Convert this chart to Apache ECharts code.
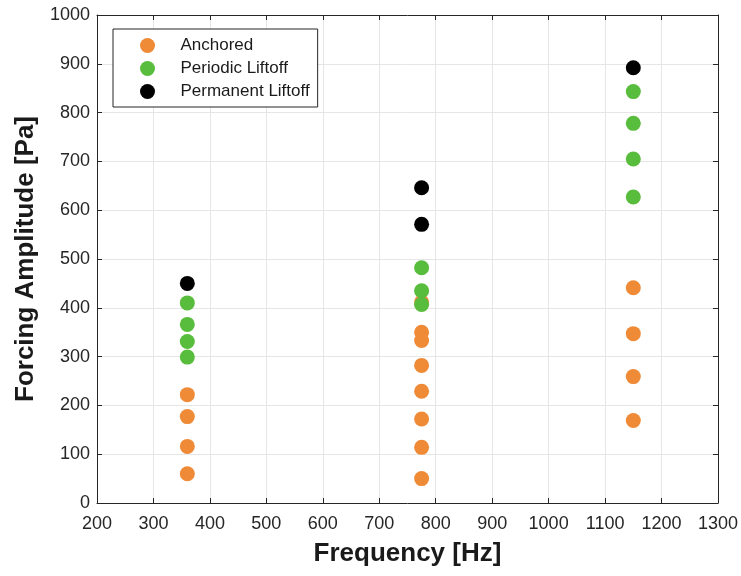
<!DOCTYPE html>
<html>
<head>
<meta charset="utf-8">
<script src="https://cdn.jsdelivr.net/npm/echarts@6/dist/echarts.min.js"></script>
<style>
  html, body { margin: 0; padding: 0; background: #fff; }
  #chart { width: 741px; height: 576px; }
</style>
</head>
<body>
<div id="chart"></div>
<script>
// values
const anchoredFreq = [360, 360, 360, 360, 775, 775, 775, 775, 775, 775, 775, 775, 1150, 1150, 1150, 1150];
const anchoredAmp  = [60, 116, 177, 222, 50, 114, 172, 229, 282, 333, 350, 412, 169, 259, 347, 441];

const periodicFreq = [360, 360, 360, 360, 775, 775, 775, 1150, 1150, 1150, 1150];
const periodicAmp  = [299, 331, 366, 410, 407, 435, 482, 627, 705, 778, 843];

const permanentFreq = [360, 775, 775, 1150];
const permanentAmp  = [450, 571, 646, 892];

const seriesNames = ['Anchored', 'Periodic Liftoff', 'Permanent Liftoff'];
const seriesColors = ['#EF8A36', '#58BC3C', '#000000'];

const xTicks = { min: 200, max: 1300, interval: 100 };
const yTicks = { min: 0, max: 1000, interval: 100 };

const font = "'Liberation Sans', Arial, Helvetica, sans-serif";
const axisColor = '#262626';

function pairs(xs, ys) {
  return xs.map((x, i) => [x, ys[i]]);
}

const chart = echarts.init(document.getElementById('chart'));

// main axes (bottom / left) plus mirrored ones (top / right) for the box frame
function frameAxis(extra) {
  return Object.assign({
    type: 'value',
    axisLine: { show: true, onZero: false, lineStyle: { color: axisColor, width: 1 } },
    axisTick: { show: true, inside: true, length: 5, lineStyle: { color: axisColor } },
    splitLine: { show: false },
    axisLabel: { show: false }
  }, extra);
}

chart.setOption({
  animation: false,
  backgroundColor: '#fff',
  grid: { left: 97, right: 22, top: 15, bottom: 73, containLabel: false },
  legend: {
    data: seriesNames,
    orient: 'vertical',
    left: 113,
    top: 29,
    icon: 'circle',
    itemWidth: 56,
    itemHeight: 15,
    itemGap: 6,
    padding: [8, 8, 7, 27],
    backgroundColor: '#fff',
    borderColor: axisColor,
    borderWidth: 1,
    textStyle: { fontFamily: font, fontSize: 17, color: '#1a1a1a', lineHeight: 15 }
  },
  xAxis: [
    frameAxis({
      position: 'bottom',
      min: xTicks.min, max: xTicks.max, interval: xTicks.interval,
      name: 'Frequency [Hz]',
      nameLocation: 'middle',
      nameGap: 38,
      nameTextStyle: { fontFamily: font, fontSize: 26, fontWeight: 'bold', color: '#1a1a1a' },
      axisLabel: { show: true, margin: 12, fontFamily: font, fontSize: 18, color: axisColor,
                   formatter: v => String(v) },
      splitLine: { show: true, lineStyle: { color: '#e6e6e6', width: 1 } }
    }),
    frameAxis({ position: 'top', min: xTicks.min, max: xTicks.max, interval: xTicks.interval })
  ],
  yAxis: [
    frameAxis({
      position: 'left',
      min: yTicks.min, max: yTicks.max, interval: yTicks.interval,
      name: 'Forcing Amplitude [Pa]',
      nameLocation: 'middle',
      nameGap: 53,
      nameTextStyle: { fontFamily: font, fontSize: 26, fontWeight: 'bold', color: '#1a1a1a' },
      axisLabel: { show: true, margin: 7, fontFamily: font, fontSize: 18, color: axisColor,
                   formatter: v => String(v) },
      splitLine: { show: true, lineStyle: { color: '#e6e6e6', width: 1 } }
    }),
    frameAxis({ position: 'right', min: yTicks.min, max: yTicks.max, interval: yTicks.interval })
  ],
  series: [
    { name: seriesNames[0], type: 'scatter', symbol: 'circle', symbolSize: 15,
      itemStyle: { color: seriesColors[0], opacity: 1 }, data: pairs(anchoredFreq, anchoredAmp) },
    { name: seriesNames[1], type: 'scatter', symbol: 'circle', symbolSize: 15,
      itemStyle: { color: seriesColors[1], opacity: 1 }, data: pairs(periodicFreq, periodicAmp) },
    { name: seriesNames[2], type: 'scatter', symbol: 'circle', symbolSize: 15,
      itemStyle: { color: seriesColors[2], opacity: 1 }, data: pairs(permanentFreq, permanentAmp) }
  ]
});
</script>
</body>
</html>
